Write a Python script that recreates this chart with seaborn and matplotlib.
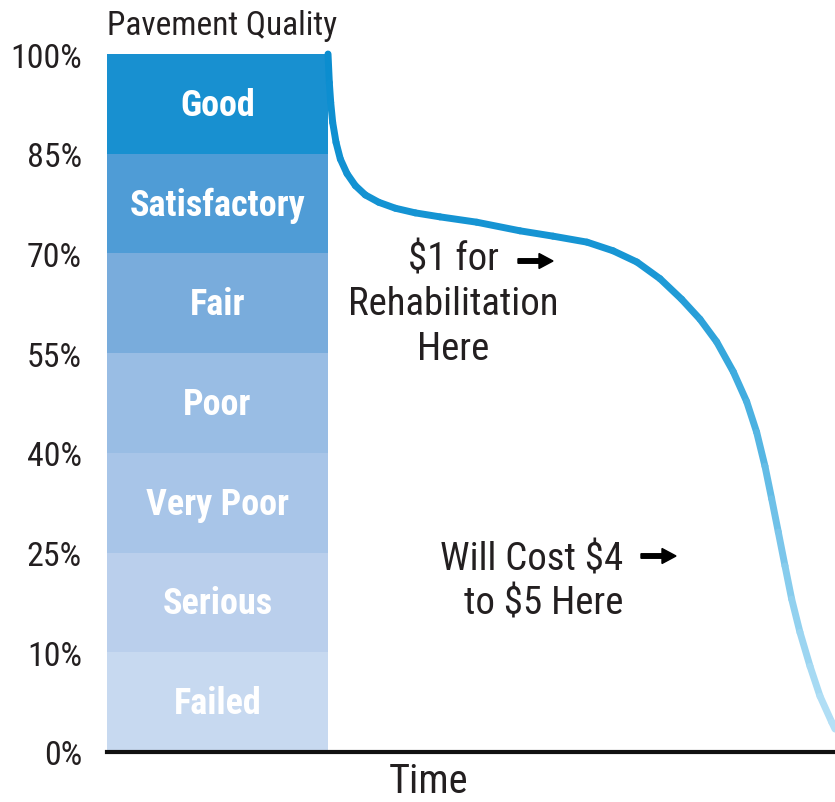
import numpy as np
import pandas as pd
import matplotlib
matplotlib.use("Agg")
import matplotlib.pyplot as plt
from matplotlib import font_manager as fm
from matplotlib.colors import LinearSegmentedColormap, to_hex
import seaborn as sns

# ---------------- data ----------------
quality_ticks = [0, 10, 25, 40, 55, 70, 85, 100]
tick_labels = ["0%", "10%", "25%", "40%", "55%", "70%", "85%", "100%"]
band_names = ["Failed", "Serious", "Very Poor", "Poor", "Fair", "Satisfactory", "Good"]
band_colors = ["#c7d9f0", "#bacfec", "#a8c5e8", "#99bde4", "#79acdc", "#4f9cd6", "#1890d0"]
band_end_time = 30.36  # bar width in time units

curve_time = [30.36, 30.54, 30.73, 31.00, 31.46, 32.05, 32.97, 34.11, 35.48, 37.32,
              39.60, 42.35, 45.74, 50.78, 56.73, 61.26, 65.93, 69.51, 72.80, 75.96,
              78.94, 81.46, 83.75, 86.03, 87.87, 89.24, 90.38, 91.30, 92.21, 93.13,
              94.05, 95.19, 96.57, 97.94, 99.55, 100.0]
curve_quality = [100.0, 95.7, 92.7, 89.7, 86.7, 84.2, 82.0, 80.2, 78.8, 77.7,
                 76.8, 76.1, 75.5, 74.7, 73.4, 72.6, 71.7, 70.4, 68.7, 66.2,
                 63.1, 60.1, 56.7, 52.2, 47.7, 43.1, 38.0, 33.1, 28.1, 23.0,
                 18.0, 13.0, 8.6, 5.6, 3.0, 2.3]

TEXT = "#231f20"
sns.set_theme(style="white")

# pick a condensed face if one is installed
fonts = fm.fontManager.ttflist
names = {f.name for f in fonts}
FAMILY = None
STRETCH = "normal"
for cand in ["Roboto Condensed", "Liberation Sans Narrow", "Open Sans Condensed",
             "Noto Sans Condensed", "DejaVu Sans Condensed"]:
    if cand in names:
        FAMILY = cand
        break
if FAMILY is None:
    for fam in ["Noto Sans", "Open Sans", "Roboto", "DejaVu Sans"]:
        cond = [f for f in fonts if f.name == fam and
                str(f.stretch) in ("condensed", "semi-condensed", "extra-condensed")]
        if cond:
            FAMILY = fam
            STRETCH = "condensed"
            break
if FAMILY is None:
    FAMILY = "Roboto"
plt.rcParams["font.family"] = [FAMILY, "DejaVu Sans"]
plt.rcParams["font.stretch"] = STRETCH

fig = plt.figure(figsize=(8.35, 8.03), dpi=100)
ax = fig.add_axes([107 / 835, 50 / 803, 728 / 835, 698 / 803])

levels = np.arange(len(quality_ticks), dtype=float)
def fwd(p):
    return np.interp(p, quality_ticks, levels)
def inv(l):
    return np.interp(l, levels, quality_ticks)
ax.set_yscale("function", functions=(fwd, inv))

# bands
for i, (name, col) in enumerate(zip(band_names, band_colors)):
    lo, hi = quality_ticks[i], quality_ticks[i + 1]
    ax.bar(0, hi - lo, bottom=lo, width=band_end_time, align="edge",
           color=col, edgecolor="none", linewidth=0, zorder=1)
    ybase = inv(i + 0.5 - 0.11)
    ax.text(band_end_time / 2, ybase, name, ha="center", va="baseline",
            color="white", fontsize=26, fontweight="bold", zorder=3,
            fontstretch=STRETCH)

# gradient curve drawn as seaborn line segments
cmap = LinearSegmentedColormap.from_list(
    "grad", [(0, "#0a8ccf"), (0.3, "#1896d4"), (0.5, "#45afe0"),
             (0.75, "#85cbed"), (1.0, "#bde4f7")])
rows = []
pal = []
for k in range(len(curve_time) - 1):
    ymid_lvl = (fwd(curve_quality[k]) + fwd(curve_quality[k + 1])) / 2
    pal.append(to_hex(cmap(1 - ymid_lvl / 7)))
    rows.append({"t": curve_time[k], "q": curve_quality[k], "seg": k})
    rows.append({"t": curve_time[k + 1], "q": curve_quality[k + 1], "seg": k})
df = pd.DataFrame(rows)
sns.lineplot(data=df, x="t", y="q", hue="seg", palette=pal, legend=False,
             sort=False, estimator=None, ax=ax, linewidth=5,
             solid_capstyle="round", zorder=4, clip_on=False)

ax.set_xlim(0, 100)
ax.set_ylim(0, 100)
ax.set_yticks(quality_ticks)
ax.set_yticklabels(tick_labels, fontstretch=STRETCH)
ax.tick_params(axis="y", length=0, pad=18, labelsize=24.5, labelcolor=TEXT)
ax.set_xticks([])
ax.set_xlabel("")
ax.set_ylabel("")
for s in ["top", "right", "left"]:
    ax.spines[s].set_visible(False)
ax.spines["bottom"].set_color("#111111")
ax.spines["bottom"].set_linewidth(3)
ax.spines["bottom"].set_zorder(5)

# texts
fig.text(107 / 835, 1 - 35 / 803, "Pavement Quality", ha="left", va="baseline",
         fontsize=24, color=TEXT, fontstretch=STRETCH)
fig.text(429 / 835, 1 - 793 / 803, "Time", ha="center", va="baseline",
         fontsize=29, color=TEXT, fontstretch=STRETCH)

def ftxt(x, y, s, ha="center"):
    fig.text(x / 835, 1 - y / 803, s, ha=ha, va="baseline", fontsize=28,
             color=TEXT, fontstretch=STRETCH)

ftxt(453, 270, "$1 for")
ftxt(453, 315, "Rehabilitation")
ftxt(453, 360, "Here")
ftxt(623, 571, "Will Cost $4", ha="right")
ftxt(623, 615, "to $5 Here", ha="right")

def arrow(x0, x1, y):
    fig.patches.append(matplotlib.patches.FancyArrow(
        x0 / 835, 1 - y / 803, (x1 - x0 - 1) / 835, 0, width=4.5 / 803,
        head_width=15 / 803, head_length=14 / 835, length_includes_head=True,
        color="black", transform=fig.transFigure, figure=fig))

arrow(518, 554, 262)
arrow(641, 677, 557)

fig.savefig("out.png", dpi=100)
